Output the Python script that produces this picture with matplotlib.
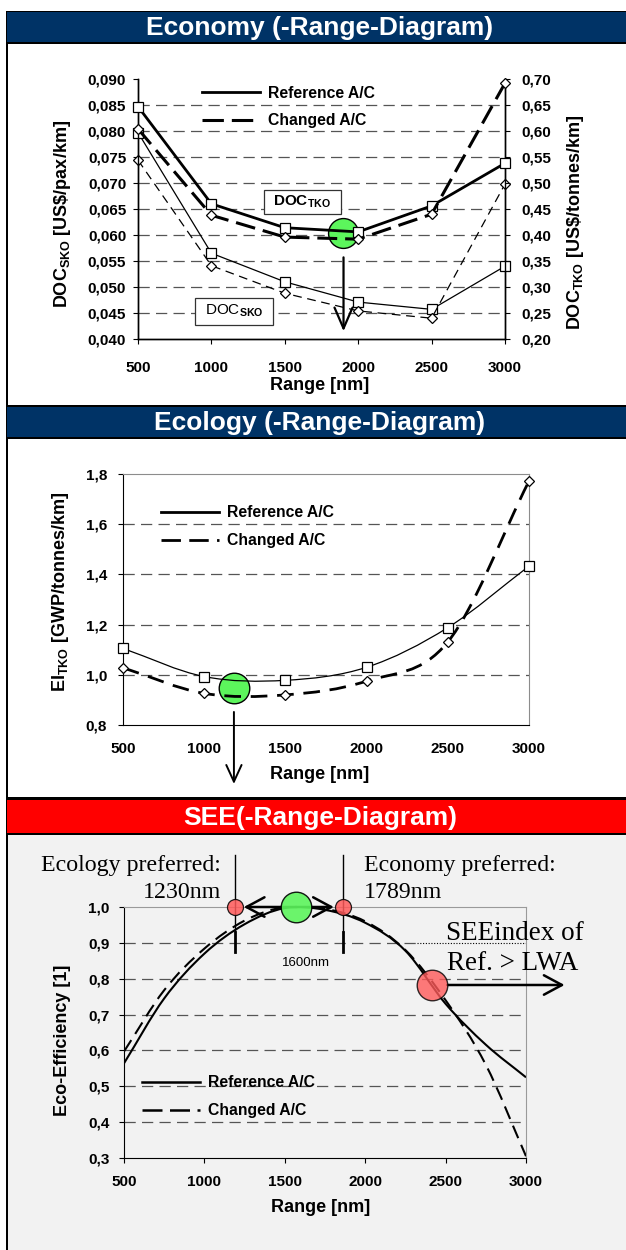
import numpy as np
import matplotlib
matplotlib.use('Agg')
import matplotlib.pyplot as plt
from matplotlib.patches import Rectangle, PathPatch
from matplotlib.path import Path
from matplotlib.lines import Line2D
from matplotlib.ticker import FuncFormatter, MultipleLocator

plt.rcParams['font.family'] = ['Liberation Sans', 'DejaVu Sans']
plt.rcParams['font.weight'] = 'bold'
plt.rcParams['mathtext.fontset'] = 'custom'
plt.rcParams['mathtext.rm'] = 'Liberation Sans'
plt.rcParams['mathtext.bf'] = 'Liberation Sans:bold'
plt.rcParams['mathtext.it'] = 'Liberation Sans:italic'

# ---- data ----
rng = [500, 1000, 1500, 2000, 2500, 3000]
doc_tko_ref = [0.647, 0.460, 0.414, 0.406, 0.456, 0.538]
doc_tko_chg = [0.604, 0.438, 0.396, 0.392, 0.440, 0.692]
doc_sko_ref = [0.0797, 0.0565, 0.0510, 0.0471, 0.0457, 0.0540]
doc_sko_chg = [0.0744, 0.0541, 0.0488, 0.0454, 0.0440, 0.0698]

ei_ref = [1.105, 0.993, 0.978, 1.030, 1.188, 1.433]
ei_chg = [1.028, 0.926, 0.920, 0.975, 1.131, 1.772]

see_rng = [500, 750, 1000, 1250, 1500, 1750, 2000, 2250, 2500, 2750, 3000]
see_ref = [0.564, 0.745, 0.870, 0.952, 0.997, 0.992, 0.956, 0.878, 0.730, 0.616, 0.525]
see_chg = [0.597, 0.768, 0.884, 0.962, 1.000, 0.995, 0.960, 0.880, 0.740, 0.560, 0.305]

W, H = 626, 1250
NAVY = '#003366'
GREEN = '#5cf55c'
RED = '#ff5a5a'


def fx(px):
    return px / W


def fy(py):
    return 1 - py / H


def box(fig, x0, y0, x1, y1, color, z=1):
    fig.add_artist(Rectangle((fx(x0), fy(y1)), (x1 - x0) / W, (y1 - y0) / H,
                             transform=fig.transFigure, facecolor=color,
                             edgecolor='none', zorder=z))


def smooth(xs, ys):
    # Excel-like smoothed line (Bezier through the points)
    p = np.column_stack([xs, ys]).astype(float)
    t = np.zeros_like(p)
    t[1:-1] = (p[2:] - p[:-2]) / 2
    t[0] = p[1] - p[0]
    t[-1] = p[-1] - p[-2]
    verts = [p[0]]
    codes = [Path.MOVETO]
    for i in range(len(p) - 1):
        verts += [p[i] + t[i] / 3, p[i + 1] - t[i + 1] / 3, p[i + 1]]
        codes += [Path.CURVE4] * 3
    return Path(verts, codes)


def comma(fmt):
    return FuncFormatter(lambda v, pos: (fmt % v).replace('.', ','))


def header(fig, y0, y1, color, text, top_line=2):
    box(fig, 7, y0 - top_line, W, y0, 'black')
    box(fig, 7, y0, W, y1, color)
    box(fig, 7, y1, W, y1 + 2, 'black')
    fig.text(fx(320), fy((y0 + y1) / 2 + 1), text, color='white', fontsize=19,
             fontweight='bold', ha='center', va='center')


fig = plt.figure(figsize=(W / 100, H / 100), dpi=100)

# panel frames and headers
box(fig, 8, 835, W, H, '#f2f2f2', z=-2)
box(fig, 6, 11, 8, H, 'black')
header(fig, 12, 42, NAVY, 'Economy (-Range-Diagram)', top_line=1)
header(fig, 407, 437, NAVY, 'Ecology (-Range-Diagram)')
header(fig, 800, 833, '#ff0000', 'SEE(-Range-Diagram)', top_line=3)

grid_kw = dict(color='#555555', lw=0.9, ls=(0, (9, 5)), zorder=0.5)
tick_kw = dict(labelsize=11, direction='out', length=3.5, width=0.8)
leg_kw = dict(loc='upper left', frameon=False, fontsize=11.3, handlelength=3.7,
              handletextpad=0.5, labelspacing=0.82, borderpad=0, borderaxespad=0)

# ---------------- Economy ----------------
ax = fig.add_axes([fx(138), fy(339), 367 / W, 260 / H])
ax2 = ax.twinx()
ax.set_xlim(500, 3000)
ax.set_ylim(0.040, 0.090)
ax2.set_ylim(0.20, 0.70)
ax.yaxis.set_major_locator(MultipleLocator(0.005))
ax2.yaxis.set_major_locator(MultipleLocator(0.05))
ax.yaxis.set_major_formatter(comma('%.3f'))
ax2.yaxis.set_major_formatter(comma('%.2f'))
ax.set_xticks(rng)
for yv in np.arange(0.045, 0.0899, 0.005):
    ax.axhline(yv, **grid_kw)
for a in (ax, ax2):
    a.spines['top'].set_visible(False)
    for s in ('left', 'right', 'bottom'):
        a.spines[s].set_linewidth(1.0)
ax.tick_params(axis='y', pad=5, **tick_kw)
ax.tick_params(axis='x', pad=12, **tick_kw)
ax2.tick_params(axis='y', pad=8, **tick_kw)

mk_sq = dict(marker='s', ms=7, mfc='white', mec='black', mew=0.9, clip_on=False)
mk_di = dict(marker='D', ms=5.5, mfc='white', mec='black', mew=0.9, clip_on=False)
ax.plot(rng, doc_sko_ref, color='black', lw=0.9, zorder=3, **mk_sq)
ax.plot(rng, doc_sko_chg, color='black', lw=0.9, ls=(0, (7, 4.5)), zorder=3, **mk_di)
ax2.plot(rng, doc_tko_ref, color='black', lw=2.0, zorder=3, **mk_sq)
ax2.plot(rng, doc_tko_chg, color='black', lw=2.2, ls=(0, (6.5, 2.6)), zorder=3, **mk_di)

ax2.plot([1896], [0.403], marker='o', ms=21.5, mfc=GREEN, mec='black', mew=1.0,
         zorder=2.5, clip_on=False)
ax2.annotate('', xy=(1900, 0.215), xytext=(1900, 0.357),
             arrowprops=dict(arrowstyle='->,head_length=1.5,head_width=0.65',
                             lw=1.6, color='black', shrinkA=0, shrinkB=0))

ax.set_xlabel('Range [nm]', fontsize=13, fontweight='bold')
ax.xaxis.set_label_coords(0.496, -0.177)
ax.xaxis.label.set_va('center')
ax.set_ylabel(r'DOC$_{\mathbf{SKO}}$ [US\$/pax/km]', fontsize=13, fontweight='bold')
ax.yaxis.set_label_coords(-0.207, 0.48)
ax.yaxis.label.set_va('center')
ax2.set_ylabel(r'DOC$_{\mathbf{TKO}}$ [US\$/tonnes/km]', fontsize=13, fontweight='bold')
ax2.yaxis.set_label_coords(1.193, 0.45)
ax2.yaxis.label.set_va('center')

h_ref = Line2D([], [], color='black', lw=2.0)
h_chg = Line2D([], [], color='black', lw=2.2, ls=(0, (7, 2.6)))
ax.legend([h_ref, h_chg], ['Reference A/C', 'Changed A/C'],
          bbox_to_anchor=(0.175, 0.975), **leg_kw)

# labelled boxes
fig.add_artist(Rectangle((fx(264), fy(214)), 77 / W, 24 / H, transform=fig.transFigure,
                         facecolor='white', edgecolor='#333333', lw=0.9, zorder=5))
fig.text(fx(302), fy(202), r'DOC$_{\mathbf{TKO}}$', fontsize=11, fontweight='bold',
         ha='center', va='center', zorder=6)
fig.add_artist(Rectangle((fx(195), fy(325)), 78 / W, 27 / H, transform=fig.transFigure,
                         facecolor='white', edgecolor='#333333', lw=0.9, zorder=5))
fig.text(fx(234), fy(311), r'DOC$_{\mathrm{SKO}}$', fontsize=11, fontweight='normal',
         ha='center', va='center', zorder=6)

# ---------------- Ecology ----------------
bx = fig.add_axes([fx(123), fy(725), 406 / W, 251 / H])
bx.set_xlim(500, 3000)
bx.set_ylim(0.8, 1.8)
bx.set_xticks(rng)
bx.yaxis.set_major_locator(MultipleLocator(0.2))
bx.yaxis.set_major_formatter(comma('%.1f'))
for yv in (1.0, 1.2, 1.4, 1.6):
    bx.axhline(yv, **grid_kw)
bx.spines['top'].set_color('#8c8c8c')
bx.spines['right'].set_color('#8c8c8c')
bx.tick_params(axis='y', pad=8, **tick_kw)
bx.tick_params(axis='x', pad=12, **tick_kw)
bx.tick_params(axis='x', length=0)

bx.add_patch(PathPatch(smooth(rng, ei_ref), fill=False, edgecolor='black', lw=0.9, zorder=3))
bx.add_patch(PathPatch(smooth(rng, ei_chg), fill=False, edgecolor='black', lw=2.0,
                       ls=(0, (6, 3.5)), zorder=3))
bx.plot(rng, ei_ref, ls='none', zorder=4, **dict(mk_sq, ms=7.5))
bx.plot(rng, ei_chg, ls='none', zorder=4, **mk_di)

bx.plot([1183], [0.946], marker='o', ms=22, mfc=GREEN, mec='black', mew=1.0, zorder=2.5)
bx.annotate('', xy=(1183, 0.565), xytext=(1183, 0.852), annotation_clip=False,
            arrowprops=dict(arrowstyle='->,head_length=1.2,head_width=0.55',
                            lw=1.4, color='black', shrinkA=0, shrinkB=0))

bx.set_xlabel('Range [nm]', fontsize=13, fontweight='bold')
bx.xaxis.set_label_coords(0.485, -0.199)
bx.xaxis.label.set_va('center')
bx.set_ylabel(r'EI$_{\mathbf{TKO}}$ [GWP/tonnes/km]', fontsize=13, fontweight='bold')
bx.yaxis.set_label_coords(-0.155, 0.53)
bx.yaxis.label.set_va('center')
bx.legend([Line2D([], [], color='black', lw=2.0), Line2D([], [], color='black', lw=2.0, ls=(0, (7, 3)))],
          ['Reference A/C', 'Changed A/C'], bbox_to_anchor=(0.094, 0.875), **leg_kw)

# ---------------- SEE ----------------
cx = fig.add_axes([fx(124), fy(1158), 402 / W, 251 / H])
cx.set_facecolor('#f2f2f2')
cx.set_xlim(500, 3000)
cx.set_ylim(0.3, 1.0)
cx.set_xticks(rng)
cx.yaxis.set_major_locator(MultipleLocator(0.1))
cx.yaxis.set_major_formatter(comma('%.1f'))
for yv in (0.4, 0.5, 0.6, 0.7, 0.8):
    cx.axhline(yv, **grid_kw)
cx.plot([500, 2320], [0.9, 0.9], **grid_kw)
cx.plot([2320, 3000], [0.9, 0.9], color='black', lw=0.8, ls=(0, (1, 1.5)), zorder=0.5)
cx.spines['top'].set_color('#9a9a9a')
cx.spines['right'].set_color('#9a9a9a')
cx.tick_params(axis='y', pad=7, **tick_kw)
cx.tick_params(axis='x', pad=9, **tick_kw)

cx.add_patch(PathPatch(smooth(see_rng, see_ref), fill=False, edgecolor='black', lw=1.5, zorder=3))
cx.add_patch(PathPatch(smooth(see_rng, see_chg), fill=False, edgecolor='black', lw=1.5,
                       ls=(0, (6.5, 3.5)), zorder=3))

# preferred-range markers
for xv in (1190, 1862):
    cx.plot([xv, xv], [0.93, 1.145], color='black', lw=1.0, clip_on=False, zorder=4)
    cx.plot([xv, xv], [0.874, 0.93], color='black', lw=2.0, clip_on=False, zorder=4)
arr = dict(arrowstyle='->,head_length=1.3,head_width=0.7', lw=1.8, color='black',
           shrinkA=0, shrinkB=0)
cx.annotate('', xy=(1245, 1.0), xytext=(1570, 1.0), arrowprops=arr, annotation_clip=False)
cx.annotate('', xy=(1805, 1.0), xytext=(1570, 1.0), arrowprops=arr, annotation_clip=False)
cx.annotate('', xy=(3240, 0.7825), xytext=(2510, 0.7825), arrowprops=arr, annotation_clip=False)
for xv in (1190, 1862):
    cx.plot([xv], [1.0], marker='o', ms=11.5, mfc=RED, mec='black', mew=0.9, alpha=0.85,
            clip_on=False, zorder=5)
cx.plot([1570], [1.0], marker='o', ms=22, mfc=GREEN, mec='black', mew=1.0, alpha=0.9,
        clip_on=False, zorder=5)
cx.plot([2415], [0.7825], marker='o', ms=22, mfc=RED, mec='black', mew=1.0, alpha=0.8,
        clip_on=False, zorder=5)

serif = dict(family=['Liberation Serif', 'DejaVu Serif'], fontweight='normal', va='center')
fig.text(fx(221), fy(865), 'Ecology preferred:', fontsize=17.2, ha='right', **serif)
fig.text(fx(221), fy(893), '1230nm', fontsize=17.2, ha='right', **serif)
fig.text(fx(364), fy(865), 'Economy preferred:', fontsize=17.2, ha='left', **serif)
fig.text(fx(364), fy(893), '1789nm', fontsize=17.2, ha='left', **serif)
fig.text(fx(446), fy(934), 'SEEindex of', fontsize=19.5, ha='left', **serif)
fig.text(fx(447), fy(964), 'Ref. > LWA', fontsize=19.5, ha='left', **serif)
fig.text(fx(306), fy(963), '1600nm', fontsize=9.5, fontweight='normal', ha='center', va='center')

cx.set_xlabel('Range [nm]', fontsize=13, fontweight='bold')
cx.xaxis.set_label_coords(0.488, -0.199)
cx.xaxis.label.set_va('center')
cx.set_ylabel('Eco-Efficiency [1]', fontsize=13, fontweight='bold')
cx.yaxis.set_label_coords(-0.154, 0.47)
cx.yaxis.label.set_va('center')
cx.legend([Line2D([], [], color='black', lw=1.8), Line2D([], [], color='black', lw=1.8, ls=(0, (8, 3)))],
          ['Reference A/C', 'Changed A/C'], bbox_to_anchor=(0.045, 0.33), **leg_kw)

fig.savefig('out.png', dpi=100)
